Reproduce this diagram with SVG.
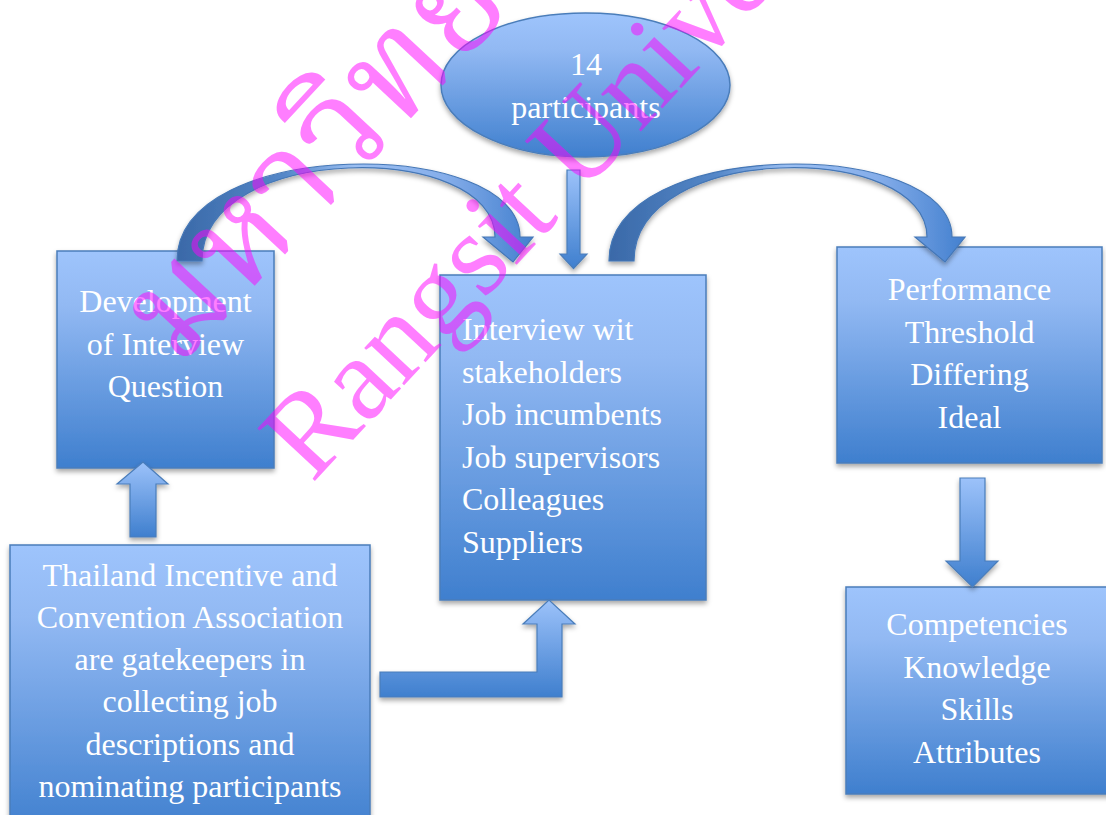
<svg xmlns="http://www.w3.org/2000/svg" width="1106" height="815" viewBox="0 0 1106 815">
  <defs>
    <linearGradient id="boxFill" x1="0" y1="0" x2="0" y2="1">
      <stop offset="0" stop-color="#9ec4fc"/>
      <stop offset="0.25" stop-color="#92b9f3"/>
      <stop offset="1" stop-color="#3f7fce"/>
    </linearGradient>
    <linearGradient id="arrowFill" x1="0" y1="0" x2="0" y2="1">
      <stop offset="0" stop-color="#9cc2fa"/>
      <stop offset="1" stop-color="#3f7fce"/>
    </linearGradient>
    <linearGradient id="curveFill1" gradientUnits="userSpaceOnUse" x1="177" y1="0" x2="533" y2="0">
      <stop offset="0" stop-color="#3a69a8"/>
      <stop offset="0.3" stop-color="#5487c8"/>
      <stop offset="0.5" stop-color="#9bbff2"/>
      <stop offset="0.75" stop-color="#86aeea"/>
      <stop offset="1" stop-color="#4380cf"/>
    </linearGradient>
    <linearGradient id="curveFill2" gradientUnits="userSpaceOnUse" x1="609" y1="0" x2="965" y2="0">
      <stop offset="0" stop-color="#3a69a8"/>
      <stop offset="0.3" stop-color="#5487c8"/>
      <stop offset="0.5" stop-color="#9bbff2"/>
      <stop offset="0.75" stop-color="#86aeea"/>
      <stop offset="1" stop-color="#4380cf"/>
    </linearGradient>
    <filter id="shadow" x="-10%" y="-10%" width="120%" height="125%">
      <feDropShadow dx="0" dy="3" stdDeviation="2.5" flood-color="#000" flood-opacity="0.35"/>
    </filter>
  </defs>
  <style>
    .box { fill: url(#boxFill); stroke: #4a7dba; stroke-width: 1.5; filter: url(#shadow); }
    .arrow { fill: url(#arrowFill); stroke: #4a7dba; stroke-width: 1.2; filter: url(#shadow); }
    .curve { stroke: #4577b6; stroke-width: 1.2; filter: url(#shadow); }
    .label { font-family: "Liberation Serif", "Times New Roman", serif; font-size: 32px; fill: #ffffff; }
    .mid { text-anchor: middle; }
    .wm { fill: #ff00ff; opacity: 0.5; }
    .wm-en { font-family: "Liberation Serif", "Times New Roman", serif; font-size: 119px; }
    .wm-th { font-family: "Noto Serif Thai", "Noto Sans Thai", "DejaVu Sans", sans-serif; font-size: 140px; }
  </style>

  <rect width="1106" height="815" fill="#ffffff"/>

  <!-- participants pool -->
  <g id="participants">
    <ellipse class="box" cx="585.5" cy="85" rx="144.5" ry="72"/>
    <text class="label mid" x="586" y="75">14</text>
    <text class="label mid" x="586" y="118">participants</text>
  </g>

  <!-- interview question development -->
  <g id="development">
    <rect class="box" x="57" y="251" width="217" height="217"/>
    <text class="label mid" x="165.5" y="312">Development</text>
    <text class="label mid" x="165.5" y="355">of Interview</text>
    <text class="label mid" x="165.5" y="397">Question</text>
  </g>

  <!-- stakeholder interviews -->
  <g id="interviews">
    <rect class="box" x="440" y="275" width="266" height="325"/>
    <text class="label" x="462" y="340">Interview wit</text>
    <text class="label" x="462" y="382.6">stakeholders</text>
    <text class="label" x="462" y="425.2">Job incumbents</text>
    <text class="label" x="462" y="467.8">Job supervisors</text>
    <text class="label" x="462" y="510.4">Colleagues</text>
    <text class="label" x="462" y="553">Suppliers</text>
  </g>

  <!-- performance levels -->
  <g id="performance">
    <rect class="box" x="837" y="247" width="265" height="216"/>
    <text class="label mid" x="969.5" y="300">Performance</text>
    <text class="label mid" x="969.5" y="342.5">Threshold</text>
    <text class="label mid" x="969.5" y="385">Differing</text>
    <text class="label mid" x="969.5" y="427.5">Ideal</text>
  </g>

  <!-- competency outcomes -->
  <g id="competencies">
    <rect class="box" x="846" y="587" width="265" height="207"/>
    <text class="label mid" x="977" y="635">Competencies</text>
    <text class="label mid" x="977" y="677.5">Knowledge</text>
    <text class="label mid" x="977" y="720">Skills</text>
    <text class="label mid" x="977" y="762.5">Attributes</text>
  </g>

  <!-- gatekeeper association -->
  <g id="gatekeepers">
    <rect class="box" x="10" y="545" width="360" height="290"/>
    <text class="label mid" x="190" y="585.7">Thailand Incentive and</text>
    <text class="label mid" x="190" y="627.9">Convention Association</text>
    <text class="label mid" x="190" y="670.1">are gatekeepers in</text>
    <text class="label mid" x="190" y="712.3">collecting job</text>
    <text class="label mid" x="190" y="754.5">descriptions and</text>
    <text class="label mid" x="190" y="796.7">nominating participants</text>
  </g>

  <!-- connectors -->
  <g id="connectors">
    <!-- curved: development to interviews -->
    <path class="curve" fill="url(#curveFill1)" d="M177,261 C177,136 520,136 520,237 L533,237 L513,262 L483,237 L495,237 C495,141 202,141 202,261 Z"/>
    <!-- curved: interviews to performance -->
    <path class="curve" fill="url(#curveFill2)" d="M609,261 C609,136 952,136 952,237 L965,237 L945,262 L915,237 L927,237 C927,141 634,141 634,261 Z"/>
    <!-- participants down to interviews -->
    <polygon class="arrow" points="567,170 580,170 580,254 587,254 573.5,268.5 560,254 567,254"/>
    <!-- gatekeepers up to development -->
    <polygon class="arrow" points="130,537 156,537 156,484 168,484 143,462 117,484 130,484"/>
    <!-- performance down to competencies -->
    <polygon class="arrow" points="960,478 985,478 985,561 998,561 972.5,587 946,561 960,561"/>
    <!-- gatekeepers bent up to interviews -->
    <polygon class="arrow" points="380,672 537,672 537,624 523,624 549,600 575,624 562,624 562,697 380,697"/>
  </g>

  <!-- diagonal watermark -->
  <g id="watermark" class="wm">
    <text class="wm-th" transform="translate(178,368) rotate(-47)">มหาวิทยาลัยรังสิต</text>
    <text class="wm-en" transform="translate(312,484) rotate(-47)">Rangsit University</text>
  </g>
</svg>
